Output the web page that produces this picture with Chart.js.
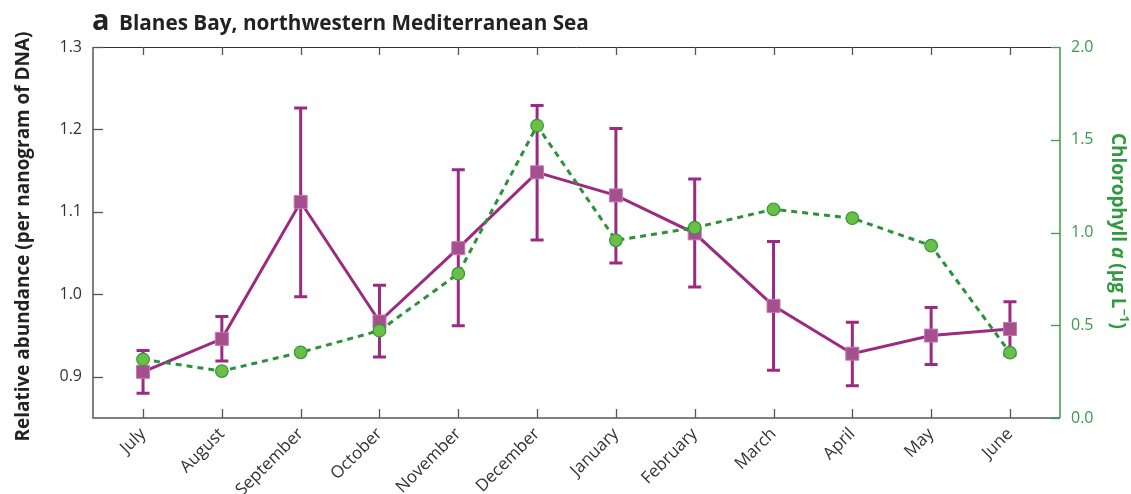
<!DOCTYPE html>
<html>
<head>
<meta charset="utf-8">
<script src="https://cdn.jsdelivr.net/npm/chart.js@4.4.1/dist/chart.umd.min.js"></script>
<style>
  html, body { margin: 0; padding: 0; background: #fff; }
  #wrap { width: 1131px; height: 494px; position: relative; }
</style>
</head>
<body>
<div id="wrap"><canvas id="c" width="1131" height="494"></canvas></div>
<script>
// Monthly sampling, Blanes Bay
const MONTHS = ['July', 'August', 'September', 'October', 'November', 'December',
                'January', 'February', 'March', 'April', 'May', 'June'];
// Relative abundance per ng DNA (mean, upper and lower error limits)
const ABUNDANCE  = [0.906, 0.946, 1.112, 0.967, 1.056, 1.148, 1.120, 1.074, 0.986, 0.928, 0.950, 0.958];
const ABUND_HIGH = [0.932, 0.973, 1.226, 1.011, 1.151, 1.229, 1.201, 1.140, 1.064, 0.966, 0.984, 0.991];
const ABUND_LOW  = [0.880, 0.919, 0.997, 0.924, 0.962, 1.066, 1.038, 1.009, 0.908, 0.889, 0.915, 0.926];
// Chlorophyll a (µg/L)
const CHLA = [0.316, 0.253, 0.354, 0.471, 0.778, 1.576, 0.958, 1.026, 1.125, 1.077, 0.929, 0.352];
// Axis ticks
const LEFT_TICKS = [0.9, 1.0, 1.1, 1.2, 1.3];
const RIGHT_TICKS = [0.0, 0.5, 1.0, 1.5, 2.0];

const FONT = "'Open Sans', 'DejaVu Sans', sans-serif";
const PURPLE = '#9b2a80';
const GREEN_LINE = '#2b9239';
const GREEN_TEXT = '#2f9a3e';
const AXIS_GREY = '#555555';

function fitSize(ctx, text, weight, target) {
  ctx.font = weight + ' 100px ' + FONT;
  return 100 * target / ctx.measureText(text).width;
}

// Frame with inward ticks, error bars, titles
const decor = {
  id: 'decor',
  beforeDatasetsDraw(chart) {
    const { ctx, chartArea: a, scales } = chart;
    const x = scales.x, y = scales.y, y2 = scales.y2;
    ctx.save();
    // top border
    ctx.strokeStyle = '#333';
    ctx.lineWidth = 1;
    ctx.beginPath(); ctx.moveTo(a.left, a.top + 0.5); ctx.lineTo(a.right, a.top + 0.5); ctx.stroke();
    // left and bottom axes
    ctx.strokeStyle = AXIS_GREY;
    ctx.lineWidth = 1.5;
    ctx.beginPath();
    ctx.moveTo(a.left, a.top); ctx.lineTo(a.left, a.bottom); ctx.lineTo(a.right, a.bottom);
    ctx.stroke();
    // x ticks (bottom, pointing up; top, pointing down)
    ctx.lineWidth = 1.3;
    MONTHS.forEach((m, i) => {
      const px = Math.round(x.getPixelForValue(i)) + 0.5;
      ctx.beginPath(); ctx.moveTo(px, a.bottom); ctx.lineTo(px, a.bottom - 9); ctx.stroke();
      ctx.beginPath(); ctx.moveTo(px, a.top); ctx.lineTo(px, a.top + 8); ctx.stroke();
    });
    // left ticks
    LEFT_TICKS.forEach(v => {
      const py = Math.round(y.getPixelForValue(v)) + 0.5;
      ctx.beginPath(); ctx.moveTo(a.left, py); ctx.lineTo(a.left + 10, py); ctx.stroke();
    });
    // right axis (green)
    ctx.strokeStyle = '#3c9c48';
    ctx.lineWidth = 1.5;
    ctx.beginPath(); ctx.moveTo(a.right, a.top); ctx.lineTo(a.right, a.bottom); ctx.stroke();
    ctx.lineWidth = 1.3;
    RIGHT_TICKS.forEach(v => {
      const py = Math.round(y2.getPixelForValue(v)) + 0.5;
      ctx.beginPath(); ctx.moveTo(a.right, py); ctx.lineTo(a.right - 9, py); ctx.stroke();
    });
    // error bars
    ctx.strokeStyle = PURPLE;
    ctx.lineWidth = 3;
    ctx.lineCap = 'butt';
    ABUNDANCE.forEach((v, i) => {
      const px = x.getPixelForValue(i);
      const hi = y.getPixelForValue(ABUND_HIGH[i]);
      const lo = y.getPixelForValue(ABUND_LOW[i]);
      ctx.beginPath();
      ctx.moveTo(px, hi); ctx.lineTo(px, lo);
      ctx.moveTo(px - 6.5, hi); ctx.lineTo(px + 6.5, hi);
      ctx.moveTo(px - 6.5, lo); ctx.lineTo(px + 6.5, lo);
      ctx.stroke();
    });
    ctx.restore();
  },
  afterDraw(chart) {
    const { ctx, chartArea: a } = chart;
    ctx.save();
    ctx.textBaseline = 'alphabetic';
    // panel letter and title
    ctx.fillStyle = '#222';
    ctx.font = 'bold 29px ' + FONT;
    ctx.textAlign = 'left';
    ctx.fillText('a', 92, 30);
    const title = 'Blanes Bay, northwestern Mediterranean Sea';
    const ts = fitSize(ctx, title, 'bold', 470);
    ctx.font = 'bold ' + ts.toFixed(2) + 'px ' + FONT;
    ctx.fillText(title, 119, 30);

    // left axis title
    const lt = 'Relative abundance (per nanogram of DNA)';
    const ls = fitSize(ctx, lt, 'bold', 410);
    ctx.font = 'bold ' + ls.toFixed(2) + 'px ' + FONT;
    ctx.translate(29, (a.top + a.bottom) / 2 + 4);
    ctx.rotate(-Math.PI / 2);
    ctx.textAlign = 'center';
    ctx.fillText(lt, 0, 0);
    ctx.restore();

    // right axis title (reads top to bottom)
    ctx.save();
    const segs = [
      { t: 'Chlorophyll ', f: 'bold' },
      { t: 'a', f: 'italic bold' },
      { t: ' (\u00b5g L', f: 'bold' },
      { t: '\u22121', f: 'bold', sup: true },
      { t: ')', f: 'bold' }
    ];
    const widthAt = s => segs.reduce((w, g) => {
      ctx.font = g.f + ' ' + (g.sup ? s * 0.65 : s) + 'px ' + FONT;
      return w + ctx.measureText(g.t).width;
    }, 0);
    const rs = 100 * 196 / widthAt(100);
    const total = widthAt(rs);
    ctx.translate(1112, 231);
    ctx.rotate(Math.PI / 2);
    ctx.fillStyle = GREEN_TEXT;
    ctx.textAlign = 'left';
    let cx = -total / 2;
    segs.forEach(g => {
      const s = g.sup ? rs * 0.65 : rs;
      ctx.font = g.f + ' ' + s.toFixed(2) + 'px ' + FONT;
      ctx.fillText(g.t, cx, g.sup ? -rs * 0.42 : 0);
      cx += ctx.measureText(g.t).width;
    });
    ctx.restore();
  }
};

const chart = new Chart(document.getElementById('c'), {
  type: 'line',
  data: {
    datasets: [
      {
        label: 'Chlorophyll a',
        yAxisID: 'y2',
        data: CHLA.map((v, i) => ({ x: i, y: v })),
        borderColor: GREEN_LINE,
        borderWidth: 3,
        borderDash: [6, 5],
        pointStyle: 'circle',
        pointRadius: 6.3,
        pointBackgroundColor: '#6cbf46',
        pointBorderColor: '#2e9a3b',
        pointBorderWidth: 1.2,
        tension: 0
      },
      {
        label: 'Relative abundance',
        yAxisID: 'y',
        data: ABUNDANCE.map((v, i) => ({ x: i, y: v })),
        borderColor: PURPLE,
        borderWidth: 3,
        pointStyle: 'rect',
        pointRadius: 9.2,
        pointBackgroundColor: '#a54f8e',
        pointBorderColor: '#c27aab',
        pointBorderWidth: 1,
        tension: 0
      }
    ]
  },
  options: {
    responsive: false,
    devicePixelRatio: 1,
    animation: false,
    layout: { padding: { top: 47, left: 0, right: 0, bottom: 0 } },
    plugins: { legend: { display: false }, tooltip: { enabled: false } },
    scales: {
      x: {
        type: 'linear',
        position: 'bottom',
        min: -0.635,
        max: 11.635,
        afterBuildTicks: s => { s.ticks = MONTHS.map((m, i) => ({ value: i })); },
        afterFit: s => { s.height = 76; },
        grid: { display: false, drawTicks: false },
        border: { display: false },
        ticks: {
          autoSkip: false,
          minRotation: 45,
          maxRotation: 45,
          padding: 6,
          color: '#333',
          font: { family: FONT, size: 17 },
          callback: v => MONTHS[v]
        }
      },
      y: {
        position: 'left',
        min: 0.85,
        max: 1.3,
        afterBuildTicks: s => { s.ticks = LEFT_TICKS.map(v => ({ value: v })); },
        afterFit: s => { s.width = 93; },
        grid: { display: false, drawTicks: false },
        border: { display: false },
        ticks: {
          padding: 11,
          color: '#333',
          font: { family: FONT, size: 16 },
          callback: v => Number(v).toFixed(1)
        }
      },
      y2: {
        position: 'right',
        min: 0,
        max: 2,
        afterBuildTicks: s => { s.ticks = RIGHT_TICKS.map(v => ({ value: v })); },
        afterFit: s => { s.width = 71; },
        grid: { display: false, drawTicks: false },
        border: { display: false },
        ticks: {
          padding: 11,
          color: '#3a9a46',
          font: { family: FONT, size: 16 },
          callback: v => Number(v).toFixed(1)
        }
      }
    }
  },
  plugins: [decor]
});
</script>
</body>
</html>
